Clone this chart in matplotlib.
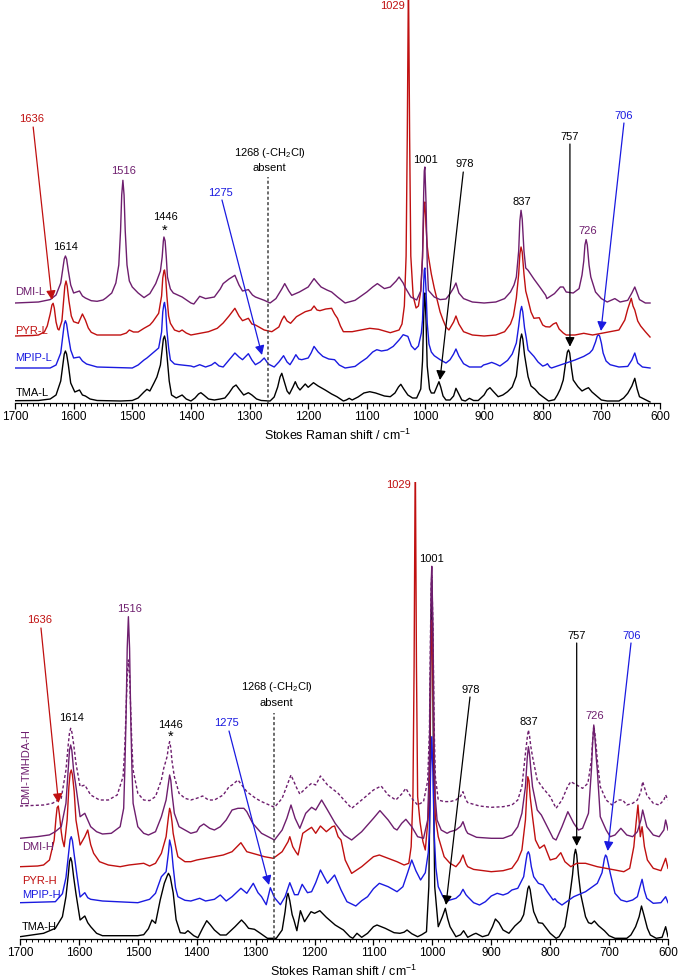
import matplotlib
matplotlib.use("Agg")
import matplotlib.pyplot as plt
from matplotlib.ticker import MultipleLocator

plt.rcParams.update({
    "font.family": ["Liberation Sans", "DejaVu Sans"],
    "mathtext.fontset": "custom",
    "mathtext.rm": "Liberation Sans",
    "mathtext.it": "Liberation Sans:italic",
    "mathtext.bf": "Liberation Sans:bold",
})

PURPLE = "#6E1E6E"
RED = "#C01010"
BLUE = "#1A1AE0"
BLACK = "#000000"

# spectra: (Raman shift, intensity above the trace's own baseline)
# ---------------- top panel (L)
TMA_L = [(1700, 0.3), (1660, 0.5), (1640, 2), (1630, 6), (1622, 20), (1618, 38), (1616, 47), (1614, 50), (1612, 47),
         (1609, 36), (1605, 18), (1598, 9), (1590, 11), (1585, 6), (1580, 5), (1572, 2), (1560, 0.5), (1520, 0),
         (1500, 0.5), (1490, 3), (1480, 9), (1475, 11.7), (1470, 10), (1463, 18), (1458, 24), (1452, 36), (1449, 52),
         (1447, 62), (1445, 65), (1443, 60), (1440, 40), (1437, 20), (1433, 6), (1425, 3), (1415, 6), (1408, 2),
         (1400, 0), (1393, 3), (1387, 7), (1383, 8.3), (1378, 6), (1370, 2), (1360, 1), (1350, 2), (1342, 3),
         (1335, 8), (1328, 14), (1323, 16), (1318, 12), (1310, 6), (1302, 8.3), (1296, 6), (1288, 2), (1280, 0.5),
         (1265, 0), (1258, 4), (1252, 14), (1248, 24), (1245, 27.7), (1241, 20), (1236, 10), (1232, 7), (1226, 14),
         (1222, 19.3), (1218, 14), (1214, 11), (1205, 17), (1200, 13.7), (1191, 18.3), (1183, 15), (1171, 11),
         (1160, 7), (1151, 4.3), (1140, 0), (1135, 1), (1130, 2.7), (1125, 1), (1115, 4), (1105, 8), (1095, 9.3),
         (1085, 8), (1070, 5), (1060, 4.3), (1052, 8), (1046, 14), (1042, 16.7), (1037, 12), (1030, 6), (1022, 3),
         (1015, 3), (1008, 12), (1005, 40), (1003, 85), (1002, 106), (1001, 108), (999, 80), (997, 35), (993, 12),
         (990, 8), (985, 8), (980, 15), (977, 19.3), (974, 14), (970, 5), (965, 1), (958, 1), (952, 5), (948, 12.7),
         (944, 8), (938, 1), (932, 0), (925, 2.7), (918, 0.5), (910, 0.5), (900, 6), (895, 11), (890, 13.3),
         (885, 10), (876, 4.3), (868, 6), (860, 9.3), (852, 14), (845, 25), (841, 46), (838, 62), (836, 67),
         (834, 62), (831, 46), (828, 35), (825, 24.3), (820, 15), (813, 11.7), (806, 7), (800, 4.3), (790, 0),
         (780, 1.3), (775, 6), (770, 12), (765, 21), (761, 38), (758, 49), (756, 51), (754, 48), (751, 33),
         (748, 21), (740, 14.3), (733, 10), (727, 12), (722, 13.3), (716, 9), (710, 6), (700, 1), (690, 0),
         (670, 0), (662, 3), (655, 7.7), (648, 15), (643, 22.7), (639, 12), (635, 4.3), (625, 1.3), (617, -1)]

MPIP_L = [(1700, 0), (1640, 0), (1630, 3), (1622, 15), (1618, 34), (1616, 44), (1614, 47.3), (1612, 44), (1609, 32),
          (1605, 18), (1600, 10), (1590, 11), (1585, 7), (1578, 4), (1560, 1), (1500, 0), (1490, 3), (1480, 8),
          (1475, 10), (1465, 15), (1455, 20), (1450, 36), (1448, 56), (1446, 64), (1445, 65.6), (1443, 58),
          (1441, 38), (1438, 20), (1435, 8), (1428, 4), (1420, 3.3), (1400, 2), (1395, 1), (1385, 3.3), (1375, 1),
          (1365, 3), (1359, 5.6), (1352, 2), (1345, 1), (1335, 8), (1325, 15), (1318, 11), (1312, 8.3),
          (1302, 14.3), (1296, 8), (1290, 3.3), (1282, 6), (1275, 10), (1268, 4), (1258, 1), (1250, 6),
          (1242, 12.3), (1236, 6), (1231, 3.3), (1226, 8), (1221, 13.3), (1216, 9), (1211, 8.3), (1200, 10),
          (1195, 15), (1190, 21.6), (1183, 16), (1175, 11.6), (1165, 9), (1155, 8.3), (1147, 3), (1137, 0),
          (1120, 1.6), (1110, 6), (1100, 10), (1090, 16), (1083, 18.3), (1075, 17), (1065, 18), (1055, 21.6),
          (1045, 28), (1038, 33.3), (1030, 31.6), (1024, 22), (1018, 18.3), (1012, 22), (1007, 35), (1005, 48),
          (1003, 85), (1002, 98), (1001, 100), (999, 78), (997, 45), (994, 24), (990, 16), (985, 12.3), (975, 8.3),
          (965, 5), (958, 8.3), (952, 14), (948, 19), (943, 12), (935, 4.3), (925, 1), (916, 1), (905, 1), (901, 3),
          (895, 4), (887, 5.6), (880, 4), (873, 2), (866, 5), (860, 7.6), (852, 14), (845, 25), (841, 42),
          (838, 57), (836, 61.6), (834, 56), (831, 40), (828, 30), (825, 18), (815, 11.6), (808, 6), (800, 1.9),
          (795, 3), (792, 4.3), (788, 1), (785, 0), (775, 2), (760, 5), (745, 8), (730, 11.6), (720, 15),
          (715, 18.3), (710, 26), (707, 32), (705, 33.3), (703, 32), (700, 25), (697, 15), (692, 7), (685, 3.3),
          (670, 1), (655, 1.6), (648, 8), (643, 15), (638, 5), (630, 1), (617, 0)]

PYR_L = [(1700, 0), (1670, 0.5), (1660, 1), (1650, 4), (1645, 10), (1640, 22), (1637, 31), (1635, 32.7), (1633, 28),
         (1630, 14), (1627, 7), (1625, 6), (1620, 15), (1617, 36), (1615, 50), (1613, 55), (1611, 50), (1608, 35),
         (1604, 20), (1600, 14.3), (1592, 12.7), (1588, 18), (1585, 22), (1580, 16), (1575, 8), (1570, 3.7),
         (1560, 1), (1540, 1), (1520, 1), (1510, 3), (1505, 6), (1498, 4), (1490, 4), (1480, 7.7), (1470, 11),
         (1465, 14.3), (1455, 22.7), (1450, 40), (1448, 58), (1446, 65), (1445, 66), (1443, 58), (1441, 40),
         (1438, 20), (1435, 12.7), (1428, 6), (1420, 4.3), (1415, 6), (1408, 3), (1400, 1), (1385, 2.7),
         (1370, 4.3), (1355, 7.7), (1345, 13), (1335, 20), (1325, 27.7), (1318, 20), (1312, 15.3), (1302, 17.7),
         (1296, 12), (1290, 11), (1275, 6), (1262, 4.3), (1250, 9), (1245, 16), (1241, 20), (1236, 15),
         (1230, 12.7), (1220, 19.3), (1212, 22), (1205, 24.3), (1195, 26), (1190, 30), (1185, 26), (1180, 25.3),
         (1170, 27), (1160, 27.7), (1155, 22), (1150, 17.7), (1145, 10), (1140, 4.3), (1125, 4.3), (1110, 6),
         (1095, 7.7), (1080, 6.7), (1060, 3.3), (1045, 6), (1040, 12), (1036, 30), (1033, 80), (1031, 200),
         (1029, 360), (1027, 200), (1025, 80), (1021, 40), (1016, 28), (1012, 30), (1008, 45), (1005, 80),
         (1003, 120), (1002, 132), (1001, 134), (999, 110), (997, 90), (995, 80), (990, 62), (985, 48), (980, 36),
         (975, 24), (970, 16), (965, 9), (960, 6), (952, 14), (948, 20), (943, 12), (935, 4.3), (920, 1),
         (900, 0), (880, 1), (865, 4.3), (855, 12), (850, 20), (845, 38), (841, 62), (839, 82), (837, 89),
         (835, 84), (832, 62), (829, 45), (825, 36), (820, 24), (815, 17.7), (806, 18.3), (800, 11), (795, 9.3),
         (788, 9), (782, 12), (777, 13.3), (772, 7), (765, 3), (760, 1), (745, 1), (730, 2.7), (715, 1),
         (700, 2.7), (685, 4.3), (670, 6), (660, 16), (655, 27), (649, 37.7), (646, 30), (643, 26), (638, 15),
         (633, 10), (625, 4.3), (617, -1)]

DMI_L = [(1700, 0), (1660, 1), (1640, 3.4), (1630, 8), (1622, 20), (1618, 36), (1616, 44), (1614, 47), (1612, 44),
         (1609, 32), (1605, 18), (1600, 10), (1590, 12), (1585, 7), (1580, 5), (1570, 2.3), (1560, 1.7), (1550, 3),
         (1545, 5), (1535, 10), (1528, 20), (1523, 38), (1520, 72), (1518, 108), (1516, 122.7), (1514, 108),
         (1512, 72), (1509, 38), (1505, 22), (1500, 16), (1490, 10), (1480, 5.4), (1470, 9.4), (1460, 19.4),
         (1452, 32), (1449, 46), (1447, 62), (1446, 66), (1444, 62), (1442, 46), (1440, 26), (1435, 14),
         (1430, 10), (1415, 6), (1400, 0), (1395, -1), (1385, 6.7), (1375, 4.4), (1360, 6), (1350, 14),
         (1345, 19.4), (1335, 24), (1325, 27.7), (1318, 18), (1312, 12), (1302, 13.4), (1295, 8), (1290, 6),
         (1275, 2.7), (1265, 0), (1255, 4.4), (1245, 14), (1240, 19.4), (1233, 12), (1228, 7.7), (1215, 11),
         (1200, 16), (1190, 24.4), (1184, 20), (1178, 16), (1168, 13), (1160, 11), (1150, 6), (1137, 0),
         (1120, 2.7), (1100, 11), (1090, 16), (1082, 19.4), (1070, 14.4), (1060, 16), (1050, 22), (1045, 26),
         (1038, 20), (1035, 16), (1025, 6), (1015, 3), (1008, 12), (1005, 45), (1003, 110), (1002, 132),
         (1001, 136), (999, 100), (997, 40), (995, 12.7), (985, 6), (975, 3.4), (965, 4), (958, 9.4), (952, 15),
         (948, 20), (943, 10), (935, 4.4), (920, 1), (900, 0), (880, 1), (865, 4.4), (855, 11), (849, 18),
         (845, 26), (841, 52), (839, 82), (837, 92.7), (835, 84), (832, 52), (829, 35), (825, 32.7), (815, 24),
         (805, 16), (795, 7.7), (793, 4.4), (780, 9.4), (770, 16), (765, 16), (760, 11), (748, 10), (738, 14.4),
         (733, 28), (730, 42), (728, 58), (726, 63.4), (724, 58), (721, 38), (718, 26), (710, 11), (700, 4.4),
         (690, 1), (677, 4.4), (668, 1), (655, 2.7), (648, 10), (643, 16), (638, 8), (635, 3.4), (625, 0),
         (617, 0)]

# ---------------- bottom panel (H)
TMA_H = [(1700, 0), (1660, 3.4), (1640, 8.4), (1628, 20), (1622, 40), (1618, 62), (1616, 75), (1614, 79),
         (1612, 75), (1609, 60), (1605, 43), (1598, 16.7), (1590, 20.7), (1585, 14), (1580, 10), (1570, 3.4),
         (1560, 1), (1500, 1), (1490, 2), (1482, 8), (1476, 16.7), (1470, 13.4), (1462, 36.7), (1455, 53.4),
         (1450, 61), (1448, 63.4), (1445, 60), (1440, 44), (1435, 17), (1428, 4), (1420, 3.4), (1415, 6),
         (1405, 1), (1398, -1), (1390, 8.4), (1383, 16), (1377, 12), (1370, 6.7), (1360, 1.7), (1350, 1.7),
         (1335, 10), (1324, 16.7), (1318, 13), (1312, 8.4), (1302, 7.4), (1292, 3.4), (1280, -1.6), (1265, -1.6),
         (1255, 6.7), (1250, 25), (1247, 40), (1245, 43.4), (1242, 36), (1238, 22), (1235, 16.7), (1230, 6),
         (1224, 26), (1217, 15), (1206, 25), (1200, 23.4), (1191, 26), (1180, 19.4), (1165, 11.7), (1151, 6.7),
         (1140, 0), (1135, -1.6), (1128, 3.4), (1120, -0.6), (1110, 3.4), (1100, 10), (1094, 11.7), (1080, 8.4),
         (1065, 4), (1055, 3.4), (1048, 4.5), (1043, 6.7), (1035, 3), (1025, 0), (1018, 2), (1010, 5), (1006, 50),
         (1004, 150), (1003, 260), (1001, 357), (999, 260), (998, 150), (996, 50), (990, 10), (983, 20),
         (978, 28.4), (974, 18), (970, 10), (960, 0), (952, 2), (947, 6), (940, -0.6), (930, 2.5), (926, 3.4),
         (915, 0), (905, 1.7), (898, 10), (893, 17.7), (887, 14), (880, 6.7), (870, 3.4), (860, 10.7), (850, 16),
         (845, 22), (840, 40), (838, 48), (836, 50.7), (834, 47), (831, 35), (828, 25), (820, 14), (813, 13.4),
         (806, 8), (800, 3.4), (790, -1.6), (785, 0), (775, 10), (768, 35), (762, 62), (759, 82), (757, 87.4),
         (755, 82), (752, 62), (748, 42), (740, 20), (735, 14), (730, 13), (725, 15.7), (718, 11), (708, 6),
         (700, 1), (690, -1.6), (670, -1.6), (663, 1.7), (655, 10), (649, 20), (645, 30.7), (641, 22), (635, 8.4),
         (630, 1.7), (620, -1.6), (610, -0.6), (604, 10), (600, 0)]

MPIP_H = [(1700, 0), (1640, 1), (1628, 9), (1622, 25), (1617, 52), (1615, 63), (1613, 66), (1611, 62), (1608, 48),
          (1603, 26), (1598, 5.7), (1590, 10), (1585, 5), (1580, 3.4), (1560, 1.7), (1500, 0), (1480, 3.4),
          (1470, 9.4), (1460, 26), (1452, 31), (1448, 50), (1446, 62.7), (1443, 55), (1440, 36), (1436, 15),
          (1432, 6), (1420, 2.4), (1410, 1.7), (1395, 4.4), (1385, 1.7), (1370, 3.4), (1360, 7.7), (1350, 1.7),
          (1340, 6), (1325, 14.4), (1315, 9.4), (1304, 19.4), (1296, 10), (1290, 6), (1282, -2), (1275, 15),
          (1268, 5), (1258, -2), (1250, 6), (1242, 20), (1234, 8), (1228, 8), (1221, 18.4), (1212, 10), (1205, 11),
          (1198, 20), (1190, 32.7), (1178, 19.4), (1166, 27.7), (1155, 12.7), (1145, 1), (1130, -3.3), (1120, 2),
          (1110, 6), (1100, 14), (1090, 19.4), (1075, 16), (1060, 11), (1050, 16), (1042, 30), (1035, 42.7),
          (1028, 32), (1020, 22.7), (1012, 30), (1007, 50), (1005, 70), (1003, 130), (1001, 166), (999, 130),
          (997, 70), (994, 35), (990, 16), (982, 6), (975, 1.7), (970, 2.7), (960, 4.4), (953, 8), (948, 13.4),
          (943, 8), (940, 6), (930, 0), (920, -2.3), (910, 1), (900, 6.7), (890, 9.4), (880, 7.7), (872, 9.4),
          (865, 12.7), (855, 14.4), (845, 26), (841, 42), (839, 49), (837, 51), (835, 48), (832, 36), (828, 26),
          (820, 19.4), (812, 17.7), (805, 11), (795, 2.7), (792, 4), (788, 1), (780, -2.3), (760, 6), (740, 11),
          (720, 19.4), (712, 30), (708, 44), (706, 47.7), (704, 46), (701, 38), (698, 29.4), (690, 9.4),
          (680, 2.7), (670, 1), (660, 2.7), (652, 6), (648, 15), (644, 23.4), (640, 12), (636, 4.4), (625, -0.6),
          (612, 0), (604, 6), (600, 0)]

PYR_H = [(1700, 0), (1670, 0.7), (1660, 1.7), (1650, 6.7), (1642, 26.7), (1639, 48), (1637, 59), (1635, 60.7),
         (1633, 52), (1630, 35), (1628, 27), (1625, 20), (1620, 46.7), (1617, 80), (1615, 93), (1613, 96.7),
         (1611, 92), (1608, 75), (1605, 46.7), (1598, 21.7), (1590, 30), (1585, 36.7), (1580, 22), (1575, 13.4),
         (1565, 5), (1550, 1.7), (1530, 0), (1515, 1.7), (1500, 2.7), (1490, 3.4), (1480, 0.7), (1470, 3.4),
         (1460, 13.4), (1452, 30), (1448, 50), (1446, 58.4), (1444, 54), (1442, 45), (1440, 33.4), (1435, 18),
         (1432, 10), (1420, 5), (1410, 5), (1400, 6.7), (1385, 8.4), (1370, 10), (1355, 11.7), (1340, 15),
         (1325, 24), (1315, 15), (1305, 13.4), (1295, 11.7), (1285, 10), (1270, 8.4), (1255, 15), (1245, 25),
         (1242, 30), (1237, 20), (1232, 15), (1228, 11.7), (1220, 33.4), (1212, 36.7), (1205, 39.4), (1198, 33.4),
         (1190, 40.7), (1180, 35), (1170, 40), (1166, 40.7), (1160, 30), (1155, 26.7), (1148, 6.7), (1137, -6.7),
         (1120, 0), (1100, 10), (1090, 11.7), (1075, 8.4), (1060, 5), (1048, 1.7), (1040, 3.4), (1036, 20),
         (1033, 70), (1031, 200), (1029, 420), (1027, 200), (1025, 70), (1021, 45), (1016, 25), (1012, 16.7),
         (1007, 50), (1005, 90), (1003, 190), (1002, 235), (1001, 246), (999, 190), (997, 100), (995, 50),
         (990, 30), (980, 10), (970, 3.4), (960, 0), (953, 5), (948, 11.7), (943, 3), (940, 0), (930, -2.7),
         (900, -5), (880, -4), (865, -1.6), (855, 6.7), (848, 16.7), (842, 46.7), (840, 70), (838, 90), (836, 86),
         (834, 70), (830, 50), (825, 26.7), (818, 18.4), (810, 21.7), (800, 6.7), (790, 8.4), (782, 14), (775, 5),
         (765, 0), (755, 3.4), (740, 3.4), (720, 0), (705, -1.6), (690, -3.3), (675, -5), (665, -1.6), (658, 20),
         (654, 45), (651, 61.7), (647, 30), (644, 40), (640, 20), (635, 6.7), (625, -1.6), (612, -4), (604, 8.4),
         (600, -1.6)]

DMI_H = [(1700, 0), (1670, 1.7), (1650, 3.4), (1640, 6.7), (1630, 11.6), (1622, 35), (1618, 70), (1616, 88),
         (1614, 93.3), (1612, 88), (1609, 68), (1605, 51.6), (1598, 21.6), (1590, 25), (1580, 11.6), (1570, 6.6),
         (1560, 4.3), (1545, 5), (1530, 11.6), (1524, 30), (1522, 70), (1520, 120), (1518, 190), (1516, 221.6),
         (1514, 190), (1512, 120), (1510, 70), (1508, 35), (1500, 11.6), (1490, 5), (1482, 3.3), (1470, 6.6),
         (1460, 21.6), (1452, 38.3), (1448, 55), (1446, 63.3), (1444, 58), (1442, 45), (1438, 25), (1430, 11.6),
         (1420, 8.3), (1410, 5), (1400, 6.6), (1395, 11.6), (1388, 14.3), (1378, 10), (1370, 8.3), (1360, 11.6),
         (1350, 18.3), (1340, 28.3), (1330, 30), (1320, 30), (1315, 26.6), (1305, 15), (1290, 5), (1268, -1.7),
         (1255, 8.3), (1247, 20), (1240, 33.3), (1233, 20), (1225, 10), (1215, 25), (1205, 31), (1198, 28.3),
         (1188, 38.3), (1178, 28.3), (1165, 15), (1150, 3.3), (1137, -1.7), (1120, 6.6), (1100, 20),
         (1089, 27.7), (1075, 18.3), (1065, 10), (1060, 8.3), (1052, 15), (1045, 19), (1035, 11.6), (1025, 1.6),
         (1015, 0), (1008, 18.3), (1005, 80), (1003, 200), (1002, 255), (1001, 272), (999, 210), (997, 90),
         (995, 40), (992, 18.3), (985, 8.3), (975, 5), (970, 6.6), (960, 8.3), (952, 12), (948, 16.6), (943, 8),
         (940, 5), (925, 1), (900, 0), (880, 0), (865, 3.3), (855, 11.6), (848, 25), (842, 51.6), (839, 80),
         (837, 91.6), (835, 84), (833, 70), (830, 51.6), (822, 28.3), (815, 23.3), (805, 11.6), (795, 0),
         (790, -1.7), (780, 11.6), (770, 26.6), (760, 15), (752, 8.3), (745, 10), (735, 25), (730, 68.3),
         (728, 95), (726, 113.3), (724, 100), (722, 82), (720, 68.3), (715, 21.6), (705, 8.3), (698, 1.6),
         (690, 3.3), (680, 10), (670, 3.3), (660, 1.6), (652, 6.6), (646, 18.3), (643, 28.3), (636, 11.6),
         (625, 3.3), (615, 1.6), (607, 8.3), (604, 18.3), (600, 8.3)]

DMIT_H = [(1700, 0), (1660, 1), (1645, 2.7), (1630, 7.7), (1622, 36), (1618, 62), (1616, 73), (1614, 77.7),
          (1612, 74), (1609, 62), (1605, 42.7), (1598, 19.4), (1590, 21), (1580, 11), (1565, 6), (1550, 6),
          (1535, 11), (1525, 29.4), (1522, 60), (1520, 95), (1518, 130), (1516, 146), (1514, 130), (1512, 95),
          (1510, 60), (1508, 36), (1500, 12.7), (1490, 6), (1480, 5.4), (1470, 9.4), (1460, 26), (1456, 37.7),
          (1450, 50), (1448, 60), (1446, 64.3), (1444, 58), (1442, 45), (1438, 29.4), (1430, 12.7), (1420, 7.7),
          (1410, 6), (1400, 7.7), (1390, 10), (1380, 6), (1370, 6), (1355, 11), (1345, 19.4), (1340, 21),
          (1330, 26), (1315, 14.4), (1300, 7.7), (1290, 4.4), (1268, -1.3), (1255, 7.7), (1247, 20), (1240, 31),
          (1230, 17.7), (1225, 12), (1212, 19.4), (1205, 22.7), (1198, 21), (1190, 30), (1178, 21), (1160, 12.7),
          (1150, 6), (1137, -2.3), (1120, 6), (1100, 16), (1087, 20), (1075, 11), (1062, 6), (1052, 12),
          (1045, 17.7), (1035, 7.7), (1025, 1), (1015, 4.4), (1008, 25), (1005, 75), (1003, 180), (1002, 220),
          (1001, 231), (999, 180), (997, 80), (995, 30), (990, 6), (980, 4.4), (970, 4.4), (960, 6), (952, 10),
          (948, 14.3), (943, 6), (940, 3.4), (920, 0), (900, -1.3), (880, -0.7), (865, 1), (855, 6), (848, 19.4),
          (842, 52.7), (839, 68), (837, 76), (835, 70), (833, 60), (830, 49.4), (822, 26), (812, 17.7), (800, 9.4),
          (790, -2.3), (780, 6), (770, 20), (765, 24.3), (755, 21), (745, 17.7), (736, 22.7), (730, 46), (728, 65),
          (726, 80), (724, 72), (722, 60), (720, 46), (715, 19.4), (705, 6), (695, 1), (685, 6), (677, 6),
          (670, 1), (660, 2.7), (652, 6), (646, 14.3), (643, 24.3), (636, 11), (625, 2.7), (615, 1), (607, 6),
          (604, 11), (600, 6)]

# trace name, data, baseline offset, colour, dashed
TOP_TRACES = [("TMA-L", TMA_L, 2, BLACK, False),
              ("MPIP-L", MPIP_L, 35, BLUE, False),
              ("PYR-L", PYR_L, 67, RED, False),
              ("DMI-L", DMI_L, 100, PURPLE, False)]
BOT_TRACES = [("TMA-H", TMA_H, 2.3, BLACK, False),
              ("MPIP-H", MPIP_H, 36.3, BLUE, False),
              ("PYR-H", PYR_H, 72.3, RED, False),
              ("DMI-H", DMI_H, 100.7, PURPLE, False),
              ("DMI-TMHDA-H", DMIT_H, 133, PURPLE, True)]

# trace labels: text, colour, y position
TOP_LABELS = [("DMI-L", PURPLE, 110.7), ("PYR-L", RED, 72), ("MPIP-L", BLUE, 44.7), ("TMA-L", BLACK, 10.3)]
BOT_LABELS = [("DMI-H", PURPLE, 92.3), ("PYR-H", RED, 58.3), ("MPIP-H", BLUE, 44), ("TMA-H", BLACK, 12.3)]

# peak notes: text, colour, x, y
TOP_NOTES = [("1636", RED, 1671.5, 283.7), ("1614", BLACK, 1613, 156), ("1516", PURPLE, 1515.3, 232),
             ("1446", BLACK, 1444.2, 185.7), ("1275", BLUE, 1350.4, 210.3), ("1001", BLACK, 999.6, 243),
             ("978", BLACK, 933.8, 238.7), ("837", BLACK, 834.9, 200.7), ("757", BLACK, 753.6, 266.3),
             ("726", PURPLE, 724.1, 172.3), ("706", BLUE, 662.7, 287)]
BOT_NOTES = [("1636", RED, 1666, 319), ("1614", BLACK, 1612.2, 220.7), ("1516", PURPLE, 1514.5, 330),
             ("1446", BLACK, 1444.2, 214), ("1275", BLUE, 1349.1, 215.7), ("1001", BLACK, 1001.1, 379.7),
             ("978", BLACK, 934.4, 249), ("837", BLACK, 835.5, 216.7), ("757", BLACK, 755, 303),
             ("726", PURPLE, 724, 223), ("706", BLUE, 661.6, 303.3)]
# arrows: colour, start x, start y, tip x, tip y
TOP_ARROWS = [(RED, 1669, 276, 1637, 103), (BLUE, 1347, 203, 1278.8, 48),
              (BLACK, 935.5, 231, 975.3, 23), (BLACK, 753.6, 259, 753.6, 56.3),
              (BLUE, 661.5, 280, 700.7, 72)]
BOT_ARROWS = [(RED, 1664.4, 311, 1634.6, 136), (BLUE, 1345.2, 208, 1277.3, 54),
              (BLACK, 936.1, 242, 976.9, 34), (BLACK, 755, 296, 755, 93),
              (BLUE, 662.8, 296, 702.4, 88)]
# 1029 label (right aligned), star, 1268 note positions
TOP_1029 = (1035, 397)
BOT_1029 = (1036.3, 454)
TOP_STAR = (1444.2, 172)
BOT_STAR = (1444.2, 202)
TOP_1268 = (1266.3, 250.3, 235.3, 226)
BOT_1268 = (1264.2, 251.7, 236.3, 226)

fig = plt.figure(figsize=(6.8, 9.8), dpi=100)
ax_top = fig.add_axes([15 / 680, 577 / 980, 645 / 680, 403 / 980])
ax_bot = fig.add_axes([20 / 680, 41 / 980, 648 / 680, 457 / 980])


def draw_panel(ax, traces, labels, notes, arrows, pos1029, star, note1268, ytop, label_x):
    for name, data, off, col, dashed in traces:
        xs = [p[0] for p in data]
        ys = [p[1] + off for p in data]
        ax.plot(xs, ys, color=col, lw=1.0, solid_joinstyle="round",
                ls=(0, (2.2, 1.6)) if dashed else "-")
    for txt, col, y in labels:
        ax.text(label_x, y, txt, color=col, fontsize=8, ha="left", va="center")
    for txt, col, x, y in notes:
        ax.text(x, y, txt, color=col, fontsize=8, ha="center", va="center")
    for col, x0, y0, x1, y1 in arrows:
        ax.annotate("", xy=(x1, y1), xytext=(x0, y0),
                    arrowprops=dict(arrowstyle="-|>,head_length=0.55,head_width=0.28",
                                    color=col, lw=0.9, shrinkA=0, shrinkB=0,
                                    mutation_scale=10))
    ax.text(pos1029[0], pos1029[1], "1029", color=RED, fontsize=8, ha="right", va="center")
    ax.text(star[0], star[1], "*", color=BLACK, fontsize=10.5, ha="center", va="center")
    x, y1, y2, ytop_line = note1268
    ax.text(x, y1, "1268 (-CH$_2$Cl)", fontsize=8, ha="center", va="center")
    ax.text(x, y2, "absent", fontsize=8, ha="center", va="center")
    ax.plot([1268, 1268], [0, ytop_line], color="#444444", lw=1.1, ls=(0, (2, 1.5)))

    ax.set_xlim(1700, 600)
    ax.set_ylim(0, ytop)
    for s in ("left", "right", "top"):
        ax.spines[s].set_visible(False)
    ax.spines["bottom"].set_linewidth(0.9)
    ax.set_yticks([])
    ax.xaxis.set_major_locator(MultipleLocator(100))
    ax.xaxis.set_minor_locator(MultipleLocator(10))
    ax.tick_params(axis="x", which="major", direction="out", length=4, width=0.9,
                   labelsize=8.5, pad=2)
    ax.tick_params(axis="x", which="minor", direction="out", length=2.5, width=0.7)
    ax.set_xlabel("Stokes Raman shift / cm$^{-1}$", fontsize=9, labelpad=3)


draw_panel(ax_top, TOP_TRACES, TOP_LABELS, TOP_NOTES, TOP_ARROWS, TOP_1029, TOP_STAR,
           TOP_1268, 403, 1699.5)
draw_panel(ax_bot, BOT_TRACES, BOT_LABELS, BOT_NOTES, BOT_ARROWS, BOT_1029, BOT_STAR,
           BOT_1268, 457, 1697)
ax_bot.text(1690, 172, "DMI-TMHDA-H", color=PURPLE, fontsize=8, rotation=90,
            ha="center", va="center")

fig.savefig("out.png", dpi=100)
